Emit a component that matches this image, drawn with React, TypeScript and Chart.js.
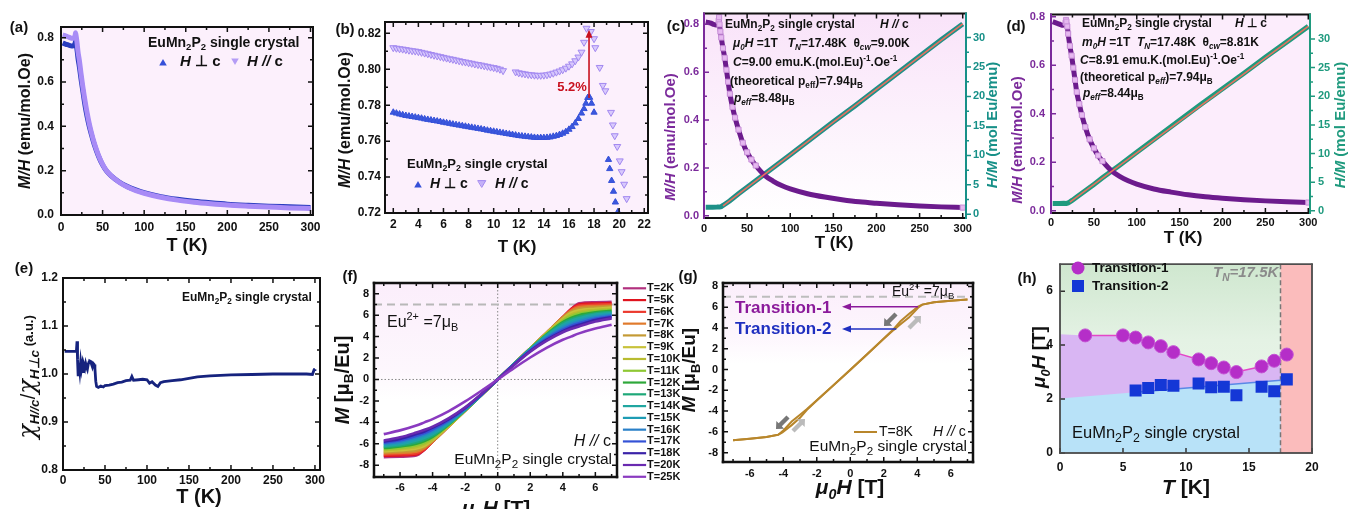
import React, { useEffect, useRef } from "react";
import { Chart, registerables } from "chart.js";

Chart.register(...registerables);

const FONT = "'Liberation Sans', Arial, Helvetica, sans-serif";

/* ---------------- (a) ---------------- */
const aT = [2, 4, 6, 8, 10, 12, 14, 16, 17, 17.5, 18.5, 19.5, 20.5, 22, 24, 26, 28, 30, 33, 36, 40, 45, 50, 55, 60, 70, 80, 90, 100, 120, 140, 160, 180, 200, 225, 250, 275, 300];
const aPar = [0.812, 0.81, 0.807, 0.804, 0.801, 0.798, 0.797, 0.802, 0.81, 0.822, 0.8, 0.77, 0.735, 0.7, 0.64, 0.585, 0.535, 0.49, 0.43, 0.38, 0.325, 0.27, 0.228, 0.198, 0.178, 0.148, 0.126, 0.11, 0.098, 0.08, 0.067, 0.058, 0.051, 0.045, 0.04, 0.036, 0.032, 0.029];
const aPerp = [0.776, 0.773, 0.77, 0.768, 0.765, 0.763, 0.762, 0.767, 0.776, 0.784, 0.765, 0.738, 0.705, 0.67, 0.615, 0.565, 0.515, 0.47, 0.415, 0.37, 0.318, 0.266, 0.226, 0.197, 0.178, 0.149, 0.128, 0.113, 0.101, 0.083, 0.071, 0.062, 0.055, 0.049, 0.044, 0.04, 0.037, 0.034];
const aXTicks = [0, 50, 100, 150, 200, 250, 300];
const aXMinor = [25, 75, 125, 175, 225, 275];
const aYTicks = [0, 0.2, 0.4, 0.6, 0.8];
const aYMinor = [0.1, 0.3, 0.5, 0.7];

/* ---------------- (b) ---------------- */
const bPerpT = [2, 2.25, 2.5, 2.75, 3, 3.25, 3.5, 3.75, 4, 4.25, 4.5, 4.75, 5, 5.25, 5.5, 5.75, 6, 6.25, 6.5, 6.75, 7, 7.25, 7.5, 7.75, 8, 8.25, 8.5, 8.75, 9, 9.25, 9.5, 9.75, 10, 10.25, 10.5, 10.75, 11, 11.25, 11.5, 11.75, 12, 12.25, 12.5, 12.75, 13, 13.25, 13.5, 13.75, 14, 14.25, 14.5, 14.75, 15, 15.25, 15.5, 15.75, 16, 16.25, 16.5, 16.75, 17, 17.2, 17.35, 17.5, 17.65, 17.8, 18, 19.15, 19.25, 19.4, 19.55, 19.7, 19.9];
const bPerp = [0.776, 0.7755, 0.775, 0.7746, 0.7742, 0.7739, 0.7736, 0.7733, 0.773, 0.7727, 0.7723, 0.772, 0.7717, 0.7714, 0.7711, 0.7708, 0.7704, 0.7701, 0.7698, 0.7694, 0.7691, 0.7688, 0.7685, 0.7682, 0.7679, 0.7676, 0.7673, 0.767, 0.7667, 0.7664, 0.766, 0.7657, 0.7654, 0.7651, 0.7648, 0.7645, 0.7642, 0.7639, 0.7636, 0.7633, 0.763, 0.7628, 0.7626, 0.7624, 0.7622, 0.762, 0.7619, 0.7619, 0.7619, 0.762, 0.7622, 0.7626, 0.763, 0.7636, 0.7643, 0.7652, 0.7665, 0.768, 0.77, 0.7725, 0.7755, 0.778, 0.781, 0.7842, 0.7843, 0.781, 0.776, 0.7497, 0.7446, 0.738, 0.732, 0.726, 0.7206];
const bParT = [2, 2.25, 2.5, 2.75, 3, 3.25, 3.5, 3.75, 4, 4.25, 4.5, 4.75, 5, 5.25, 5.5, 5.75, 6, 6.25, 6.5, 6.75, 7, 7.25, 7.5, 7.75, 8, 8.25, 8.5, 8.75, 9, 9.25, 9.5, 9.75, 10, 10.25, 10.5, 10.75, 11.75, 12, 12.25, 12.5, 12.75, 13, 13.25, 13.5, 13.75, 14, 14.25, 14.5, 14.75, 15, 15.25, 15.5, 15.75, 16, 16.25, 16.5, 16.75, 17, 17.2, 17.4, 17.75, 18, 18.1, 18.45, 18.7, 18.9, 19.35, 19.5, 19.65, 19.85, 20.05, 20.2, 20.4, 20.6];
const bPar = [0.812, 0.8117, 0.8114, 0.8112, 0.8109, 0.8106, 0.8103, 0.8101, 0.8098, 0.8094, 0.809, 0.8086, 0.8082, 0.8078, 0.8074, 0.807, 0.8066, 0.8062, 0.8058, 0.8055, 0.8051, 0.8047, 0.8043, 0.804, 0.8036, 0.8033, 0.8029, 0.8026, 0.8023, 0.8019, 0.8016, 0.8012, 0.8009, 0.8005, 0.8, 0.7992, 0.7985, 0.798, 0.7977, 0.7974, 0.7971, 0.7969, 0.7967, 0.7966, 0.7966, 0.7967, 0.7969, 0.7973, 0.7978, 0.7984, 0.799, 0.7997, 0.8006, 0.8017, 0.803, 0.8047, 0.8068, 0.8095, 0.815, 0.8228, 0.821, 0.817, 0.812, 0.801, 0.791, 0.788, 0.776, 0.769, 0.763, 0.757, 0.749, 0.743, 0.736, 0.728];
const bXTicks = [2, 4, 6, 8, 10, 12, 14, 16, 18, 20, 22];
const bXMinor = [3, 5, 7, 9, 11, 13, 15, 17, 19, 21];
const bYTicks = [0.72, 0.74, 0.76, 0.78, 0.8, 0.82];
const bYMinor = [0.73, 0.75, 0.77, 0.79, 0.81];
const bArrowT = 17.6;
const bArrowFrom = 0.784;
const bArrowTo = 0.822;

/* ---------------- (c) ---------------- */
const cT = [2, 5, 8, 11, 14, 16, 17, 17.5, 18, 19, 20, 22, 24, 26, 28, 30, 33, 36, 40, 45, 50, 55, 60, 70, 80, 90, 100, 120, 140, 160, 180, 200, 225, 250, 275, 300];
const cMH = [0.81, 0.808, 0.805, 0.8, 0.797, 0.802, 0.815, 0.83, 0.8, 0.77, 0.745, 0.7, 0.66, 0.61, 0.56, 0.51, 0.455, 0.41, 0.36, 0.305, 0.265, 0.235, 0.21, 0.17, 0.145, 0.126, 0.112, 0.092, 0.078, 0.067, 0.058, 0.052, 0.046, 0.041, 0.037, 0.034];
const cHMT = [2, 5, 10, 15, 18, 20, 22, 25, 30, 40, 50, 60, 80, 100, 125, 150, 175, 200, 225, 250, 275, 300];
const cHM = [1.22, 1.22, 1.22, 1.23, 1.25, 1.32, 1.5, 1.8, 2.3, 3.5, 4.6, 5.7, 7.9, 10.1, 12.9, 15.7, 18.4, 21.2, 24.0, 26.8, 29.6, 32.3];
const cFitT = [22, 300];
const cFit = [1.45, 32.3];

/* ---------------- (d) ---------------- */
const dT = [2, 5, 8, 11, 14, 16, 17, 17.5, 18, 19, 20, 22, 24, 26, 28, 30, 33, 36, 40, 45, 50, 55, 60, 70, 80, 90, 100, 120, 140, 160, 180, 200, 225, 250, 275, 300];
const dMH = [0.78, 0.776, 0.772, 0.768, 0.765, 0.768, 0.776, 0.787, 0.78, 0.76, 0.73, 0.68, 0.64, 0.59, 0.54, 0.49, 0.44, 0.395, 0.345, 0.295, 0.258, 0.228, 0.205, 0.167, 0.142, 0.124, 0.11, 0.09, 0.077, 0.066, 0.058, 0.052, 0.046, 0.041, 0.037, 0.034];
const dHMT = [2, 5, 10, 15, 18, 20, 22, 25, 30, 40, 50, 60, 80, 100, 125, 150, 175, 200, 225, 250, 275, 300];
const dHM = [1.28, 1.28, 1.29, 1.3, 1.28, 1.37, 1.55, 1.85, 2.4, 3.5, 4.6, 5.75, 7.95, 10.2, 13.0, 15.8, 18.6, 21.3, 24.0, 26.8, 29.5, 32.2];
const dFitT = [22, 300];
const dFit = [1.5, 32.2];
const cdXTicks = [0, 50, 100, 150, 200, 250, 300];
const cdXMinor = [25, 75, 125, 175, 225, 275];
const cdYTicks = [0, 0.2, 0.4, 0.6, 0.8];
const cdYMinor = [0.1, 0.3, 0.5, 0.7];
const cdY2Ticks = [0, 5, 10, 15, 20, 25, 30];
const cdY2Minor = [2.5, 7.5, 12.5, 17.5, 22.5, 27.5];

/* ---------------- (e) ---------------- */
const eT = [2, 5, 8, 11, 14, 16, 16.7, 17.3, 18, 19, 20, 21, 22, 23, 24, 25, 26, 27, 28, 29, 30, 31, 32, 33, 34, 35, 36, 37, 38, 39, 40, 42, 45, 48, 50, 55, 60, 65, 70, 75, 80, 82, 84, 90, 95, 100, 103, 106, 110, 113, 116, 120, 125, 130, 140, 150, 160, 175, 200, 225, 250, 275, 290, 297, 299, 300];
const eV = [1.047, 1.047, 1.047, 1.047, 1.047, 1.048, 1.068, 1.03, 0.998, 1.02, 1.005, 1.025, 1.01, 1.02, 1.005, 1.018, 1.012, 1.022, 1.015, 1.01, 1.02, 1.025, 1.027, 1.026, 1.02, 1.015, 1.022, 1.02, 1.012, 0.985, 0.974, 0.972, 0.975, 0.973, 0.976, 0.977, 0.979, 0.982, 0.983, 0.986, 0.987, 0.995, 0.987, 0.988, 0.989, 0.988, 0.981, 0.984, 0.977, 0.974, 0.982, 0.984, 0.985, 0.986, 0.988, 0.991, 0.994, 0.996, 0.998, 0.999, 1.0, 1.0, 1.0, 0.999, 1.009, 1.01];
const eXTicks = [0, 50, 100, 150, 200, 250, 300];
const eXMinor = [25, 75, 125, 175, 225, 275];
const eYTicks = [0.8, 0.9, 1.0, 1.1, 1.2];
const eYMinor = [0.85, 0.95, 1.05, 1.15];

/* ---------------- (f) ---------------- */
const fH = [-7, -6, -5, -4.5, -4, -3, -2, -1, 0, 1, 2, 3, 4, 4.5, 5, 6, 7];
const f2 = [-7.25, -7.2, -7.1, -6.55, -5.8, -4.35, -2.9, -1.45, 0, 1.45, 2.9, 4.35, 5.8, 6.55, 7.1, 7.2, 7.25];
const f5 = [-7.12, -7.08, -7.0, -6.55, -5.8, -4.35, -2.9, -1.45, 0, 1.45, 2.9, 4.35, 5.8, 6.55, 7.0, 7.08, 7.12];
const f6 = [-7.02, -6.98, -6.9, -6.5, -5.8, -4.35, -2.9, -1.45, 0, 1.45, 2.9, 4.35, 5.8, 6.5, 6.9, 6.98, 7.02];
const f7 = [-6.9, -6.85, -6.75, -6.4, -5.8, -4.35, -2.9, -1.45, 0, 1.45, 2.9, 4.35, 5.8, 6.4, 6.75, 6.85, 6.9];
const f8 = [-6.8, -6.72, -6.6, -6.3, -5.75, -4.35, -2.9, -1.45, 0, 1.45, 2.9, 4.35, 5.75, 6.3, 6.6, 6.72, 6.8];
const f9 = [-6.7, -6.6, -6.45, -6.2, -5.65, -4.35, -2.9, -1.45, 0, 1.45, 2.9, 4.35, 5.65, 6.2, 6.45, 6.6, 6.7];
const f10 = [-6.6, -6.48, -6.3, -6.05, -5.55, -4.3, -2.9, -1.45, 0, 1.45, 2.9, 4.3, 5.55, 6.05, 6.3, 6.48, 6.6];
const f11 = [-6.5, -6.38, -6.15, -5.9, -5.45, -4.25, -2.9, -1.45, 0, 1.45, 2.9, 4.25, 5.45, 5.9, 6.15, 6.38, 6.5];
const f12 = [-6.4, -6.26, -6.0, -5.75, -5.35, -4.2, -2.85, -1.45, 0, 1.45, 2.85, 4.2, 5.35, 5.75, 6.0, 6.26, 6.4];
const f13 = [-6.3, -6.15, -5.85, -5.6, -5.25, -4.15, -2.85, -1.45, 0, 1.45, 2.85, 4.15, 5.25, 5.6, 5.85, 6.15, 6.3];
const f14 = [-6.2, -6.05, -5.7, -5.45, -5.1, -4.1, -2.85, -1.45, 0, 1.45, 2.85, 4.1, 5.1, 5.45, 5.7, 6.05, 6.2];
const f15 = [-6.1, -5.93, -5.55, -5.3, -4.95, -4.0, -2.8, -1.45, 0, 1.45, 2.8, 4.0, 4.95, 5.3, 5.55, 5.93, 6.1];
const f16 = [-6.0, -5.8, -5.4, -5.15, -4.8, -3.9, -2.75, -1.42, 0, 1.42, 2.75, 3.9, 4.8, 5.15, 5.4, 5.8, 6.0];
const f17 = [-5.9, -5.67, -5.25, -5.0, -4.65, -3.8, -2.7, -1.4, 0, 1.4, 2.7, 3.8, 4.65, 5.0, 5.25, 5.67, 5.9];
const f18 = [-5.8, -5.55, -5.1, -4.85, -4.5, -3.7, -2.65, -1.38, 0, 1.38, 2.65, 3.7, 4.5, 4.85, 5.1, 5.55, 5.8];
const f20 = [-5.7, -5.4, -4.95, -4.7, -4.4, -3.6, -2.6, -1.35, 0, 1.35, 2.6, 3.6, 4.4, 4.7, 4.95, 5.4, 5.7];
const f25 = [-5.1, -4.75, -4.3, -4.0, -3.7, -2.95, -2.05, -1.05, 0, 1.05, 2.05, 2.95, 3.7, 4.0, 4.3, 4.75, 5.1];
const fSeries = [f2, f5, f6, f7, f8, f9, f10, f11, f12, f13, f14, f15, f16, f17, f18, f20, f25];
const fLabels = ["T=2K", "T=5K", "T=6K", "T=7K", "T=8K", "T=9K", "T=10K", "T=11K", "T=12K", "T=13K", "T=14K", "T=15K", "T=16K", "T=17K", "T=18K", "T=20K", "T=25K"];
const fColors = ["#b2307e", "#e0141e", "#ec3a2e", "#e07a2c", "#c49a34", "#c8c23a", "#b8bc30", "#8ec834", "#2ea83a", "#1ea878", "#20a6a0", "#1e9cb4", "#2a80c8", "#3452d6", "#3a22a8", "#6a2ab0", "#8a3ac0"];
const fmXTicks = [-6, -4, -2, 0, 2, 4, 6];
const fmXMinor = [-7, -5, -3, -1, 1, 3, 5, 7];
const fmYTicks = [-8, -6, -4, -2, 0, 2, 4, 6, 8];
const fmYMinor = [-7, -5, -3, -1, 1, 3, 5, 7];
const euSat = 7;

/* ---------------- (g) ---------------- */
const gUpH = [-7, -6, -5, -4.3, -4.05, -3.5, -3, -2.6, -2, -1, 0, 1, 2, 2.6, 3, 3.5, 4.05, 4.3, 5, 6, 7];
const gUpM = [-6.8, -6.66, -6.5, -6.27, -6.05, -5.35, -4.65, -3.9, -2.98, -1.52, -0.05, 1.45, 2.95, 3.82, 4.35, 5.0, 5.95, 6.25, 6.48, 6.62, 6.75];
const gDnH = [7, 6, 5, 4.3, 4.05, 3.5, 3, 2.6, 2, 1, 0, -1, -2, -2.6, -3, -3.5, -4.05, -4.3, -5, -6, -7];
const gDnM = [6.75, 6.62, 6.48, 6.25, 6.05, 5.35, 4.65, 3.9, 2.98, 1.48, -0.02, -1.5, -2.95, -3.82, -4.35, -5.0, -5.95, -6.27, -6.5, -6.66, -6.8];
const gTr1 = [4.05, 6.05];
const gTr2 = [2.75, 3.9];

/* ---------------- (h) ---------------- */
const hT1T = [2, 5, 6, 7, 8, 9, 11, 12, 13, 14, 16, 17, 18];
const hT1V = [4.36, 4.36, 4.28, 4.1, 3.96, 3.74, 3.47, 3.33, 3.17, 3.0, 3.21, 3.42, 3.65];
const hT2T = [6, 7, 8, 9, 11, 12, 13, 14, 16, 17, 18];
const hT2V = [2.32, 2.41, 2.52, 2.49, 2.58, 2.44, 2.46, 2.14, 2.46, 2.29, 2.73];
const hT2LineT = [6, 18];
const hT2LineV = [2.25, 2.72];
const hPurpleT = [0, 2, 5, 6, 7, 8, 9, 11, 12, 13, 14, 16, 17, 17.5];
const hPurpleV = [4.4, 4.36, 4.36, 4.28, 4.1, 3.96, 3.74, 3.47, 3.33, 3.17, 3.0, 3.21, 3.42, 3.53];
const hBlueT = [0, 17.5];
const hBlueV = [2.02, 2.7];
const hTN = 17.5;
const hXTicks = [0, 5, 10, 15, 20];
const hYTicks = [0, 2, 4, 6];

/* ---------------- helpers ---------------- */
type Seg = { t: string; it?: boolean; sub?: boolean; sup?: boolean; sz?: number; c?: string; w?: string; fam?: string };
const T = (t: string, o: any = {}): Seg => ({ t, ...o });
const I = (t: string, o: any = {}): Seg => ({ t, it: true, ...o });
const S = (t: string, o: any = {}): Seg => ({ t, sub: true, ...o });
const U = (t: string, o: any = {}): Seg => ({ t, sup: true, ...o });
const FORM = (after = " single crystal"): Seg[] => [T("EuMn"), S("2"), T("P"), S("2"), T(after)];

function rich(ctx: any, segs: Seg[], x: number, y: number, o: any) {
  const base = o.size;
  ctx.save();
  ctx.translate(x, y);
  if (o.rot) ctx.rotate(o.rot);
  const items = segs.map((s) => {
    const sz0 = s.sz ?? base;
    const small = s.sub || s.sup;
    const sz = small ? sz0 * (o.ss ?? 0.68) : sz0;
    const font = `${s.it ? "italic " : ""}${s.w ?? o.weight ?? "bold"} ${sz}px ${s.fam ?? FONT}`;
    ctx.font = font;
    const w = ctx.measureText(s.t).width;
    const dy = s.sub ? sz0 * 0.32 : s.sup ? -sz0 * 0.36 : 0;
    return { s, font, w, dy };
  });
  const total = items.reduce((a, b) => a + b.w, 0);
  let cx = o.align === "center" ? -total / 2 : o.align === "right" ? -total : 0;
  ctx.textBaseline = "middle";
  ctx.textAlign = "left";
  for (const it of items) {
    ctx.font = it.font;
    ctx.fillStyle = it.s.c ?? o.color ?? "#111";
    ctx.fillText(it.s.t, cx, it.dy);
    cx += it.w;
  }
  ctx.restore();
}

function texts(ctx: any, box: any, list: any[]) {
  for (const t of list) rich(ctx, t.segs, t.x - box.l, t.y - box.t, t);
}

const xy = (xs: number[], ys: number[]) => xs.map((x, i) => ({ x, y: ys[i] }));

function ax(o: any) {
  const horiz = o.pos === "bottom";
  return {
    type: "linear",
    position: o.pos,
    min: o.min,
    max: o.max,
    grid: { display: false, drawTicks: false },
    border: { display: false },
    ticks: {
      autoSkip: false,
      maxRotation: 0,
      minRotation: 0,
      padding: o.pad,
      color: o.color || "#111",
      font: { family: FONT, size: o.font || 12, weight: "bold" },
      callback: (v: number) => o.fmt(v),
    },
    afterBuildTicks: (s: any) => {
      s.ticks = o.ticks.map((v: number) => ({ value: v }));
    },
    afterFit: (s: any) => {
      if (horiz) s.height = o.size;
      else s.width = o.size;
    },
  };
}

function frame(c: any, ctx: any, o: any) {
  const a = c.chartArea;
  const xs = c.scales[o.x || "x"];
  const yl = c.scales[o.yl || "y"];
  const yr = c.scales[o.yr || o.yl || "y"];
  const maj = o.maj ?? 5;
  const mn = o.mn ?? 3;
  ctx.lineCap = "butt";
  const tick = (side: string, s: any, vals: number[] | undefined, len: number, color: string) => {
    if (!vals) return;
    ctx.beginPath();
    for (const v of vals) {
      const p = s.getPixelForValue(v);
      if (side === "l") { ctx.moveTo(a.left, p); ctx.lineTo(a.left + len, p); }
      else if (side === "r") { ctx.moveTo(a.right, p); ctx.lineTo(a.right - len, p); }
      else if (side === "b") { ctx.moveTo(p, a.bottom); ctx.lineTo(p, a.bottom - len); }
      else { ctx.moveTo(p, a.top); ctx.lineTo(p, a.top + len); }
    }
    ctx.strokeStyle = color;
    ctx.lineWidth = o.tw ?? 1.5;
    ctx.stroke();
  };
  const cl = o.cl || "#111", cr = o.cr || "#111", ct = o.ct || "#111", cb = o.cb || "#111";
  tick("b", xs, o.xMaj, maj, cb);
  tick("b", xs, o.xMin, mn, cb);
  if (o.top !== false) {
    tick("t", xs, o.xMaj, maj, ct);
    tick("t", xs, o.xMin, mn, ct);
  }
  tick("l", yl, o.yMaj, maj, cl);
  tick("l", yl, o.yMin, mn, cl);
  if (o.right !== false) {
    const rs = o.rOut ? -1 : 1;
    tick("r", yr, o.yrMaj || o.yMaj, maj * rs, cr);
    tick("r", yr, o.yrMin || o.yMin, mn * rs, cr);
  }
  const lw = o.lw ?? 2;
  const line = (x1: number, y1: number, x2: number, y2: number, col: string) => {
    ctx.beginPath();
    ctx.moveTo(x1, y1);
    ctx.lineTo(x2, y2);
    ctx.strokeStyle = col;
    ctx.lineWidth = lw;
    ctx.stroke();
  };
  ctx.lineCap = "square";
  line(a.left, a.top, a.right, a.top, ct);
  line(a.left, a.bottom, a.right, a.bottom, cb);
  line(a.left, a.top, a.left, a.bottom, cl);
  line(a.right, a.top, a.right, a.bottom, cr);
}

function fillArea(c: any, ctx: any, color: any) {
  const a = c.chartArea;
  ctx.fillStyle = color;
  ctx.fillRect(a.left, a.top, a.right - a.left, a.bottom - a.top);
}

function vgrad(c: any, ctx: any, stops: [number, string][]) {
  const a = c.chartArea;
  const g = ctx.createLinearGradient(0, a.top, 0, a.bottom);
  for (const [p, col] of stops) g.addColorStop(p, col);
  return g;
}

function tri(ctx: any, x: number, y: number, r: number, up: boolean, fill: string, stroke?: string) {
  ctx.beginPath();
  if (up) {
    ctx.moveTo(x, y - r);
    ctx.lineTo(x + r * 0.95, y + r * 0.6);
    ctx.lineTo(x - r * 0.95, y + r * 0.6);
  } else {
    ctx.moveTo(x, y + r);
    ctx.lineTo(x + r * 0.95, y - r * 0.6);
    ctx.lineTo(x - r * 0.95, y - r * 0.6);
  }
  ctx.closePath();
  ctx.fillStyle = fill;
  ctx.fill();
  if (stroke) {
    ctx.strokeStyle = stroke;
    ctx.lineWidth = 1;
    ctx.stroke();
  }
}

function fatArrow(ctx: any, x: number, y: number, ang: number, len: number, color: string) {
  ctx.save();
  ctx.translate(x, y);
  ctx.rotate(ang);
  ctx.beginPath();
  ctx.moveTo(-len / 2, -2.2);
  ctx.lineTo(len / 2 - 6, -2.2);
  ctx.lineTo(len / 2 - 6, -5.5);
  ctx.lineTo(len / 2, 0);
  ctx.lineTo(len / 2 - 6, 5.5);
  ctx.lineTo(len / 2 - 6, 2.2);
  ctx.lineTo(-len / 2, 2.2);
  ctx.closePath();
  ctx.fillStyle = color;
  ctx.fill();
  ctx.restore();
}

function build(box: any, spec: any) {
  return {
    type: "scatter",
    data: { datasets: spec.datasets },
    options: {
      responsive: false,
      animation: false,
      devicePixelRatio: 1,
      events: [],
      layout: { padding: { left: 0, top: spec.pt || 0, right: spec.pr || 0, bottom: 0 } },
      plugins: { legend: { display: false }, tooltip: { enabled: false } },
      scales: spec.scales,
    },
    plugins: [
      {
        id: "deco",
        beforeDatasetsDraw(c: any) {
          if (spec.bg) { c.ctx.save(); spec.bg(c, c.ctx); c.ctx.restore(); }
        },
        afterDatasetsDraw(c: any) {
          if (spec.fg) { c.ctx.save(); spec.fg(c, c.ctx); c.ctx.restore(); }
        },
      },
    ],
  };
}

const ROT = -Math.PI / 2;
const fmt0 = (v: number) => String(v);
const fmt1 = (v: number) => v.toFixed(1);
const fmt2 = (v: number) => v.toFixed(2);

/* ---------------- panels ---------------- */
const boxA = { l: 0, t: 0, w: 330, h: 255 };
function makeA(box: any) {
  return build(box, {
    pt: 27, pr: 17,
    scales: {
      x: ax({ pos: "bottom", min: 0, max: 303, ticks: aXTicks, size: 40, pad: 5, fmt: fmt0 }),
      y: ax({ pos: "left", min: 0, max: 0.848, ticks: aYTicks, size: 61, pad: 7, fmt: fmt1 }),
    },
    datasets: [
      { data: xy(aT, aPar), showLine: true, borderColor: "#a88bf6", borderWidth: 5, pointRadius: 0, cubicInterpolationMode: "monotone" },
      { data: xy(aT, aPerp), showLine: true, borderColor: "#2a3cbf", borderWidth: 5, pointRadius: 0, cubicInterpolationMode: "monotone" },
    ],
    bg: (c: any, ctx: any) => fillArea(c, ctx, "#fcf0fc"),
    fg: (c: any, ctx: any) => {
      frame(c, ctx, { xMaj: aXTicks, xMin: aXMinor, yMaj: aYTicks, yMin: aYMinor });
      tri(ctx, 163 - box.l, 63 - box.t, 4, true, "#3550d8");
      tri(ctx, 235 - box.l, 61 - box.t, 4, false, "#b49cf5");
      texts(ctx, box, [
        { segs: [T("(a)")], x: 19, y: 28, size: 15, align: "center" },
        { segs: FORM(), x: 148, y: 43, size: 14 },
        { segs: [I("H"), T(" \u22a5 c")], x: 180, y: 62, size: 15 },
        { segs: [I("H //"), T(" c")], x: 247, y: 62, size: 15 },
        { segs: [I("M/H"), T(" (emu/mol.Oe)")], x: 26, y: 121, size: 16, align: "center", rot: ROT },
        { segs: [T("T (K)")], x: 187, y: 246, size: 18, align: "center" },
      ]);
    },
  });
}

const boxB = { l: 330, t: 0, w: 330, h: 255 };
function makeB(box: any) {
  return build(box, {
    pt: 22, pr: 12,
    scales: {
      x: ax({ pos: "bottom", min: 1.34, max: 22.3, ticks: bXTicks, size: 42, pad: 4, fmt: fmt0 }),
      y: ax({ pos: "left", min: 0.72, max: 0.8263, ticks: bYTicks, size: 55, pad: 4, fmt: fmt2 }),
    },
    datasets: [
      { data: xy(bParT, bPar), pointStyle: "triangle", pointRotation: 180, pointRadius: 4, pointBackgroundColor: "rgba(214,198,252,0.95)", pointBorderColor: "#a288f0", pointBorderWidth: 1 },
      { data: xy(bPerpT, bPerp), pointStyle: "triangle", pointRadius: 3.6, pointBackgroundColor: "#3b58de", pointBorderColor: "#3550d8", pointBorderWidth: 1 },
    ],
    bg: (c: any, ctx: any) => fillArea(c, ctx, "#fcf0fc"),
    fg: (c: any, ctx: any) => {
      const px = c.scales.x.getPixelForValue(bArrowT);
      const y1 = c.scales.y.getPixelForValue(bArrowFrom);
      const y2 = c.scales.y.getPixelForValue(bArrowTo);
      ctx.strokeStyle = "#c8101e";
      ctx.lineWidth = 1.6;
      ctx.beginPath();
      ctx.moveTo(px, y1);
      ctx.lineTo(px, y2 + 6);
      ctx.stroke();
      ctx.fillStyle = "#c8101e";
      ctx.beginPath();
      ctx.moveTo(px, y2);
      ctx.lineTo(px - 3.5, y2 + 8);
      ctx.lineTo(px + 3.5, y2 + 8);
      ctx.closePath();
      ctx.fill();
      frame(c, ctx, { xMaj: bXTicks, xMin: bXMinor, yMaj: bYTicks, yMin: bYMinor });
      tri(ctx, 418 - box.l, 185 - box.t, 4, true, "#3550d8");
      tri(ctx, 482 - box.l, 183 - box.t, 4, false, "#c4b0f8", "#a288f0");
      texts(ctx, box, [
        { segs: [T("(b)")], x: 345, y: 30, size: 15, align: "center" },
        { segs: [T("5.2%", { c: "#c8101e" })], x: 572, y: 87, size: 13, align: "center" },
        { segs: FORM(), x: 407, y: 164, size: 13 },
        { segs: [I("H"), T(" \u22a5 c")], x: 430, y: 184, size: 14 },
        { segs: [I("H //"), T(" c")], x: 495, y: 184, size: 14 },
        { segs: [I("M/H"), T(" (emu/mol.Oe)")], x: 346, y: 120, size: 16, align: "center", rot: ROT },
        { segs: [T("T (K)")], x: 517, y: 247, size: 17, align: "center" },
      ]);
    },
  });
}

const PURP = "#6c1b8d";
const PURP_T = "#7b2a9b";
const TEAL = "#1e9088";

function cdDatasets(T1: number[], MH: number[], HT: number[], HM: number[], FT: number[], FV: number[], teal: string) {
  return [
    { data: xy(FT, FV), yAxisID: "y2", showLine: true, borderColor: "#e8705e", borderWidth: 1.6, pointRadius: 0 },
    {
      data: xy(T1, MH), yAxisID: "y", showLine: true, borderColor: PURP, borderWidth: 5, cubicInterpolationMode: "monotone",
      pointStyle: "rect",
      pointRadius: (ctx: any) => { const r = ctx.raw; return r && ((r.x >= 17 && r.x <= 60) || r.x === 300) ? 3.6 : 0; },
      pointBackgroundColor: "#e6b8f0", pointBorderColor: "#c890d8", pointBorderWidth: 1,
    },
    { data: xy(HT, HM), yAxisID: "y2", showLine: true, borderColor: teal, borderWidth: 5, pointRadius: 0 },
  ];
}

const boxC = { l: 660, t: 0, w: 340, h: 255 };
function makeC(box: any) {
  return build(box, {
    pt: 10, pr: 0,
    scales: {
      x: ax({ pos: "bottom", min: 0, max: 303.8, ticks: cdXTicks, size: 37, pad: 4, fmt: fmt0, font: 11 }),
      y: ax({ pos: "left", min: -0.0095, max: 0.845, ticks: cdYTicks, size: 44, pad: 5, fmt: fmt1, font: 11, color: PURP_T }),
      y2: ax({ pos: "right", min: -0.62, max: 34.05, ticks: cdY2Ticks, size: 34, pad: 7, fmt: fmt0, font: 11, color: "#179088" }),
    },
    datasets: cdDatasets(cT, cMH, cHMT, cHM, cFitT, cFit, TEAL),
    bg: (c: any, ctx: any) => fillArea(c, ctx, vgrad(c, ctx, [[0, "#f9e3f9"], [1, "#ffffff"]])),
    fg: (c: any, ctx: any) => {
      frame(c, ctx, { yr: "y2", xMaj: cdXTicks, xMin: cdXMinor, yMaj: cdYTicks, yMin: cdYMinor, yrMaj: cdY2Ticks, yrMin: cdY2Minor, cl: PURP_T, cr: "#179088", rOut: true });
      texts(ctx, box, [
        { segs: [T("(c)")], x: 676, y: 27, size: 15, align: "center" },
        { segs: FORM(), x: 725, y: 25, size: 12 },
        { segs: [I("H //"), T(" c")], x: 880, y: 25, size: 12 },
        { segs: [I("\u03bc"), S("0", { it: true }), I("H"), T(" =1T   "), I("T"), S("N", { it: true }), T("=17.48K  \u03b8"), S("cw", { it: true }), T("=9.00K")], x: 733, y: 44, size: 12 },
        { segs: [I("C"), T("=9.00 emu.K.(mol.Eu)"), U("-1"), T(".Oe"), U("-1")], x: 733, y: 63, size: 12 },
        { segs: [T("(theoretical p"), S("eff"), T(")=7.94\u03bc"), S("B")], x: 730, y: 82, size: 12 },
        { segs: [I("p"), S("eff", { it: true }), T("=8.48\u03bc"), S("B")], x: 734, y: 99, size: 12 },
        { segs: [I("M/H"), T(" (emu/mol.Oe)")], x: 671, y: 137, size: 15, align: "center", rot: ROT, color: PURP_T },
        { segs: [I("H/M"), T(" (mol Eu/emu)")], x: 993, y: 125, size: 15, align: "center", rot: ROT, color: "#179088" },
        { segs: [T("T (K)")], x: 834, y: 243, size: 17, align: "center" },
      ]);
    },
  });
}

const boxD = { l: 1000, t: 0, w: 348, h: 255 };
function makeD(box: any) {
  const teal = "#1f9a7e";
  return build(box, {
    pt: 7, pr: 0,
    scales: {
      x: ax({ pos: "bottom", min: 0, max: 302, ticks: cdXTicks, size: 42, pad: 3, fmt: fmt0, font: 11 }),
      y: ax({ pos: "left", min: -0.009, max: 0.809, ticks: cdYTicks, size: 51, pad: 6, fmt: fmt1, font: 11, color: PURP_T }),
      y2: ax({ pos: "right", min: -0.39, max: 34.26, ticks: cdY2Ticks, size: 38, pad: 8, fmt: fmt0, font: 11, color: teal }),
    },
    datasets: cdDatasets(dT, dMH, dHMT, dHM, dFitT, dFit, teal),
    bg: (c: any, ctx: any) => fillArea(c, ctx, "#fcedfc"),
    fg: (c: any, ctx: any) => {
      frame(c, ctx, { yr: "y2", xMaj: cdXTicks, xMin: cdXMinor, yMaj: cdYTicks, yMin: cdYMinor, yrMaj: cdY2Ticks, yrMin: cdY2Minor, cl: PURP_T, cr: teal, rOut: true });
      texts(ctx, box, [
        { segs: [T("(d)")], x: 1016, y: 27, size: 15, align: "center" },
        { segs: FORM(), x: 1082, y: 24, size: 12 },
        { segs: [I("H"), T(" \u22a5 c")], x: 1235, y: 24, size: 12 },
        { segs: [I("m"), S("0", { it: true }), I("H"), T(" =1T  "), I("T"), S("N", { it: true }), T("=17.48K  \u03b8"), S("cw", { it: true }), T("=8.81K")], x: 1082, y: 43, size: 12 },
        { segs: [I("C"), T("=8.91 emu.K.(mol.Eu)"), U("-1"), T(".Oe"), U("-1")], x: 1080, y: 61, size: 12 },
        { segs: [T("(theoretical p"), S("eff", { it: true }), T(")=7.94\u03bc"), S("B")], x: 1080, y: 78, size: 12 },
        { segs: [I("p"), S("eff", { it: true }), T("=8.44\u03bc"), S("B")], x: 1083, y: 94, size: 12 },
        { segs: [I("M/H"), T(" (emu/mol.Oe)")], x: 1018, y: 140, size: 15, align: "center", rot: ROT, color: PURP_T },
        { segs: [I("H/M"), T(" (mol Eu/emu)")], x: 1341, y: 125, size: 15, align: "center", rot: ROT, color: teal },
        { segs: [T("T (K)")], x: 1183, y: 238, size: 17, align: "center" },
      ]);
    },
  });
}

const boxE = { l: 0, t: 250, w: 330, h: 259 };
function makeE(box: any) {
  return build(box, {
    pt: 28, pr: 10,
    scales: {
      x: ax({ pos: "bottom", min: 0, max: 306, ticks: eXTicks, size: 39, pad: 3, fmt: fmt0, font: 12 }),
      y: ax({ pos: "left", min: 0.8, max: 1.2, ticks: eYTicks, size: 63, pad: 5, fmt: fmt1, font: 12 }),
    },
    datasets: [{ data: xy(eT, eV), showLine: true, borderColor: "#16237e", borderWidth: 2.8, pointRadius: 0 }],
    bg: (c: any, ctx: any) => fillArea(c, ctx, "#ffffff"),
    fg: (c: any, ctx: any) => {
      frame(c, ctx, { xMaj: eXTicks, xMin: eXMinor, yMaj: eYTicks, yMin: eYMinor });
      const chi = { t: "\u03c7", it: true, w: "normal", fam: "'DejaVu Serif', serif", sz: 24 };
      texts(ctx, box, [
        { segs: [T("(e)")], x: 24, y: 269, size: 15, align: "center" },
        { segs: FORM(), x: 182, y: 298, size: 12 },
        { segs: [chi, S("H//c", { it: true, sz: 20 }), T("/", { sz: 20, w: "normal" }), chi, S("H\u22a5c", { it: true, sz: 20 }), T(" (a.u.)", { sz: 13 })], x: 29, y: 377, size: 20, align: "center", rot: ROT },
        { segs: [T("T (K)")], x: 199, y: 497, size: 20, align: "center" },
      ]);
    },
  });
}

const boxF = { l: 330, t: 250, w: 350, h: 259 };
function makeF(box: any) {
  const ds = fSeries.map((s, i) => ({
    data: xy(fH, s), showLine: true, borderColor: fColors[i], borderWidth: 2.6, pointRadius: 0, cubicInterpolationMode: "monotone",
  })).reverse();
  return build(box, {
    pt: 33, pr: 63,
    scales: {
      x: ax({ pos: "bottom", min: -7.6, max: 7.33, ticks: fmXTicks, size: 32, pad: 4, fmt: fmt0, font: 11 }),
      y: ax({ pos: "left", min: -9.1, max: 9.0, ticks: fmYTicks, size: 44, pad: 5, fmt: fmt0, font: 11 }),
    },
    datasets: ds,
    bg: (c: any, ctx: any) => {
      fillArea(c, ctx, vgrad(c, ctx, [[0, "#fbeefb"], [0.45, "#fdf7fd"], [0.6, "#ffffff"], [1, "#ffffff"]]));
      const a = c.chartArea;
      const x0 = c.scales.x.getPixelForValue(0);
      const y0 = c.scales.y.getPixelForValue(0);
      ctx.strokeStyle = "#888";
      ctx.lineWidth = 1;
      ctx.setLineDash([1.5, 2]);
      ctx.beginPath();
      ctx.moveTo(x0, a.top); ctx.lineTo(x0, a.bottom);
      ctx.moveTo(a.left, y0); ctx.lineTo(a.right, y0);
      ctx.stroke();
      const ys = c.scales.y.getPixelForValue(euSat);
      ctx.strokeStyle = "#b8b8b8";
      ctx.lineWidth = 2;
      ctx.setLineDash([8, 5]);
      ctx.beginPath();
      ctx.moveTo(a.left, ys); ctx.lineTo(a.right, ys);
      ctx.stroke();
      ctx.setLineDash([]);
    },
    fg: (c: any, ctx: any) => {
      frame(c, ctx, { xMaj: fmXTicks, xMin: fmXMinor, yMaj: fmYTicks, yMin: fmYMinor, lw: 2.5 });
      const list: any[] = [];
      fLabels.forEach((lab, i) => {
        const yy = 288.3 + i * 11.78 - box.t;
        ctx.strokeStyle = fColors[i];
        ctx.lineWidth = 2.2;
        ctx.beginPath();
        ctx.moveTo(624 - box.l, yy);
        ctx.lineTo(645 - box.l, yy);
        ctx.stroke();
        list.push({ segs: [T(lab)], x: 647, y: 288.3 + i * 11.78, size: 11 });
      });
      texts(ctx, box, [
        ...list,
        { segs: [T("(f)")], x: 350, y: 277, size: 15, align: "center" },
        { segs: [T("Eu"), U("2+"), T(" =7\u03bc"), S("B")], x: 387, y: 323, size: 16, weight: "normal" },
        { segs: [I("H //"), T(" c")], x: 611, y: 442, size: 16, align: "right", weight: "normal" },
        { segs: FORM(), x: 612, y: 460, size: 15.5, align: "right", weight: "normal", ss: 0.75 },
        { segs: [I("M"), T(" ["), T("\u03bc"), S("B"), T("/Eu]")], x: 343, y: 380, size: 20, align: "center", rot: ROT },
        { segs: [I("\u03bc"), S("0", { it: true }), I("H"), T(" [T]")], x: 496, y: 509, size: 21, align: "center" },
      ]);
    },
  });
}

const boxG = { l: 670, t: 250, w: 340, h: 259 };
function makeG(box: any) {
  const gold = "#b8862b";
  return build(box, {
    pt: 33, pr: 37,
    scales: {
      x: ax({ pos: "bottom", min: -7.6, max: 7.33, ticks: fmXTicks, size: 47, pad: 5, fmt: fmt0, font: 11 }),
      y: ax({ pos: "left", min: -8.9, max: 8.33, ticks: fmYTicks, size: 53, pad: 5, fmt: fmt0, font: 11 }),
    },
    datasets: [
      { data: xy(gUpH, gUpM), showLine: true, borderColor: gold, borderWidth: 2, pointRadius: 0 },
      { data: xy(gDnH, gDnM), showLine: true, borderColor: gold, borderWidth: 2, pointRadius: 0 },
    ],
    bg: (c: any, ctx: any) => {
      fillArea(c, ctx, vgrad(c, ctx, [[0, "#fbeefb"], [0.3, "#fdf6fd"], [0.45, "#ffffff"], [1, "#ffffff"]]));
      const a = c.chartArea;
      const ys = c.scales.y.getPixelForValue(euSat);
      ctx.strokeStyle = "#bdbdbd";
      ctx.lineWidth = 2;
      ctx.setLineDash([8, 5]);
      ctx.beginPath();
      ctx.moveTo(a.left, ys); ctx.lineTo(a.right, ys);
      ctx.stroke();
      ctx.setLineDash([]);
    },
    fg: (c: any, ctx: any) => {
      const xs = c.scales.x, ys = c.scales.y;
      const arrow = (p: number[], col: string) => {
        const x1 = xs.getPixelForValue(p[0]);
        const y1 = ys.getPixelForValue(p[1]);
        const x2 = 842 - box.l;
        ctx.strokeStyle = col;
        ctx.lineWidth = 1.5;
        ctx.beginPath();
        ctx.moveTo(x1, y1);
        ctx.lineTo(x2 + 6, y1);
        ctx.stroke();
        ctx.fillStyle = col;
        ctx.beginPath();
        ctx.moveTo(x2, y1);
        ctx.lineTo(x2 + 9, y1 - 3.5);
        ctx.lineTo(x2 + 9, y1 + 3.5);
        ctx.closePath();
        ctx.fill();
      };
      arrow(gTr1, "#8b1a9b");
      arrow(gTr2, "#1f2fc0");
      fatArrow(ctx, 890 - box.l, 320 - box.t, (3 * Math.PI) / 4, 17, "#777");
      fatArrow(ctx, 915 - box.l, 322 - box.t, -Math.PI / 4, 17, "#bbb");
      fatArrow(ctx, 782 - box.l, 423 - box.t, (3 * Math.PI) / 4, 17, "#777");
      fatArrow(ctx, 799 - box.l, 425 - box.t, -Math.PI / 4, 17, "#bbb");
      frame(c, ctx, { xMaj: fmXTicks, xMin: fmXMinor, yMaj: fmYTicks, yMin: fmYMinor, lw: 2.5 });
      ctx.strokeStyle = gold;
      ctx.lineWidth = 2;
      ctx.beginPath();
      ctx.moveTo(855 - box.l, 432 - box.t);
      ctx.lineTo(876 - box.l, 432 - box.t);
      ctx.stroke();
      texts(ctx, box, [
        { segs: [T("(g)")], x: 688, y: 277, size: 15, align: "center" },
        { segs: [T("Eu"), U("2+"), T(" =7\u03bc"), S("B")], x: 892, y: 292, size: 14, weight: "normal" },
        { segs: [T("Transition-1", { c: "#8b1a9b" })], x: 735, y: 308, size: 17 },
        { segs: [T("Transition-2", { c: "#1f2fc0" })], x: 735, y: 329, size: 17 },
        { segs: [T("T=8K")], x: 879, y: 432, size: 14, weight: "normal" },
        { segs: [I("H //"), T(" c")], x: 933, y: 432, size: 14, weight: "normal" },
        { segs: FORM(), x: 967, y: 447, size: 15.5, align: "right", weight: "normal", ss: 0.75 },
        { segs: [I("M"), T(" ["), T("\u03bc"), S("B"), T("/Eu]")], x: 690, y: 370, size: 19, align: "center", rot: ROT },
        { segs: [I("\u03bc"), S("0", { it: true }), I("H"), T(" [T]")], x: 850, y: 488, size: 21, align: "center" },
      ]);
    },
  });
}

const boxH = { l: 1010, t: 250, w: 338, h: 259 };
function makeH(box: any) {
  return build(box, {
    pt: 7, pr: 36,
    scales: {
      x: ax({ pos: "bottom", min: 0, max: 20, ticks: hXTicks, size: 56, pad: 7, fmt: fmt0, font: 12 }),
      y: ax({ pos: "left", min: 0, max: 7, ticks: hYTicks, size: 50, pad: 7, fmt: fmt0, font: 12 }),
    },
    datasets: [
      { data: xy(hT2T, hT2V), pointStyle: "rect", pointRadius: 8.5, pointBackgroundColor: "#1437d6", pointBorderColor: "#1437d6", pointBorderWidth: 0 },
      { data: xy(hT1T, hT1V), showLine: true, borderColor: "#e446c8", borderWidth: 1.5, pointStyle: "circle", pointRadius: 6.5, pointBackgroundColor: "#b52ec8", pointBorderColor: "#c452d4", pointBorderWidth: 1 },
      { data: xy(hT2LineT, hT2LineV), showLine: true, borderColor: "#5a88e6", borderWidth: 1.5, pointRadius: 0 },
    ],
    bg: (c: any, ctx: any) => {
      const a = c.chartArea;
      const xs = c.scales.x, ys = c.scales.y;
      const xTN = xs.getPixelForValue(hTN);
      ctx.fillStyle = vgrad(c, ctx, [[0, "#cfe7cf"], [0.4, "#e4f2e4"], [1, "#eef7ee"]]);
      ctx.fillRect(a.left, a.top, xTN - a.left, a.bottom - a.top);
      ctx.fillStyle = "#fbbcbc";
      ctx.fillRect(xTN, a.top, a.right - xTN, a.bottom - a.top);
      const poly = (tt: number[], vv: number[], col: string) => {
        ctx.beginPath();
        tt.forEach((t, i) => {
          const px = xs.getPixelForValue(t), py = ys.getPixelForValue(vv[i]);
          if (i === 0) ctx.moveTo(px, py); else ctx.lineTo(px, py);
        });
        ctx.lineTo(xTN, a.bottom);
        ctx.lineTo(a.left, a.bottom);
        ctx.closePath();
        ctx.fillStyle = col;
        ctx.fill();
      };
      poly(hPurpleT, hPurpleV, "#d9b6f3");
      poly(hBlueT, hBlueV, "#b8e2f8");
      ctx.strokeStyle = "#777";
      ctx.lineWidth = 1.5;
      ctx.setLineDash([5, 3]);
      ctx.beginPath();
      ctx.moveTo(xTN, a.top); ctx.lineTo(xTN, a.bottom);
      ctx.stroke();
      ctx.setLineDash([]);
    },
    fg: (c: any, ctx: any) => {
      frame(c, ctx, { xMaj: hXTicks, yMaj: hYTicks, top: false, right: false, lw: 1.5, cl: "#333", cb: "#333", ct: "#333", cr: "#333" });
      const a = c.chartArea;
      ctx.strokeStyle = "#555";
      ctx.lineWidth = 1.2;
      ctx.strokeRect(a.left, a.top, a.right - a.left, a.bottom - a.top);
      ctx.fillStyle = "#b52ec8";
      ctx.beginPath();
      ctx.arc(1078 - box.l, 268 - box.t, 6.5, 0, Math.PI * 2);
      ctx.fill();
      ctx.fillStyle = "#1437d6";
      ctx.fillRect(1072 - box.l, 280 - box.t, 12, 12);
      texts(ctx, box, [
        { segs: [T("(h)")], x: 1027, y: 279, size: 15, align: "center" },
        { segs: [T("Transition-1")], x: 1092, y: 268, size: 13.5 },
        { segs: [T("Transition-2")], x: 1092, y: 286, size: 13.5 },
        { segs: [I("T"), S("N", { it: true }), I("=17.5K")], x: 1213, y: 273, size: 15, color: "#8a8a8a" },
        { segs: FORM(), x: 1072, y: 433, size: 16.5, weight: "normal", ss: 0.75 },
        { segs: [I("\u03bc"), S("0", { it: true }), I("H"), T(" [T]")], x: 1040, y: 357, size: 19, align: "center", rot: ROT },
        { segs: [I("T"), T(" [K]")], x: 1186, y: 488, size: 21, align: "center" },
      ]);
    },
  });
}

function Panel({ box, make }: any) {
  const ref = useRef<HTMLCanvasElement | null>(null);
  useEffect(() => {
    const chart = new Chart(ref.current as HTMLCanvasElement, make(box) as any);
    return () => chart.destroy();
  }, []);
  return (
    <canvas
      ref={ref}
      width={box.w}
      height={box.h}
      style={{ position: "absolute", left: box.l, top: box.t, width: box.w, height: box.h }}
    />
  );
}

export default function App() {
  return (
    <div style={{ position: "absolute", left: 0, top: 0, width: 1348, height: 509, background: "#ffffff", overflow: "hidden" }}>
      <Panel box={boxA} make={makeA} />
      <Panel box={boxB} make={makeB} />
      <Panel box={boxC} make={makeC} />
      <Panel box={boxD} make={makeD} />
      <Panel box={boxE} make={makeE} />
      <Panel box={boxF} make={makeF} />
      <Panel box={boxG} make={makeG} />
      <Panel box={boxH} make={makeH} />
    </div>
  );
}
